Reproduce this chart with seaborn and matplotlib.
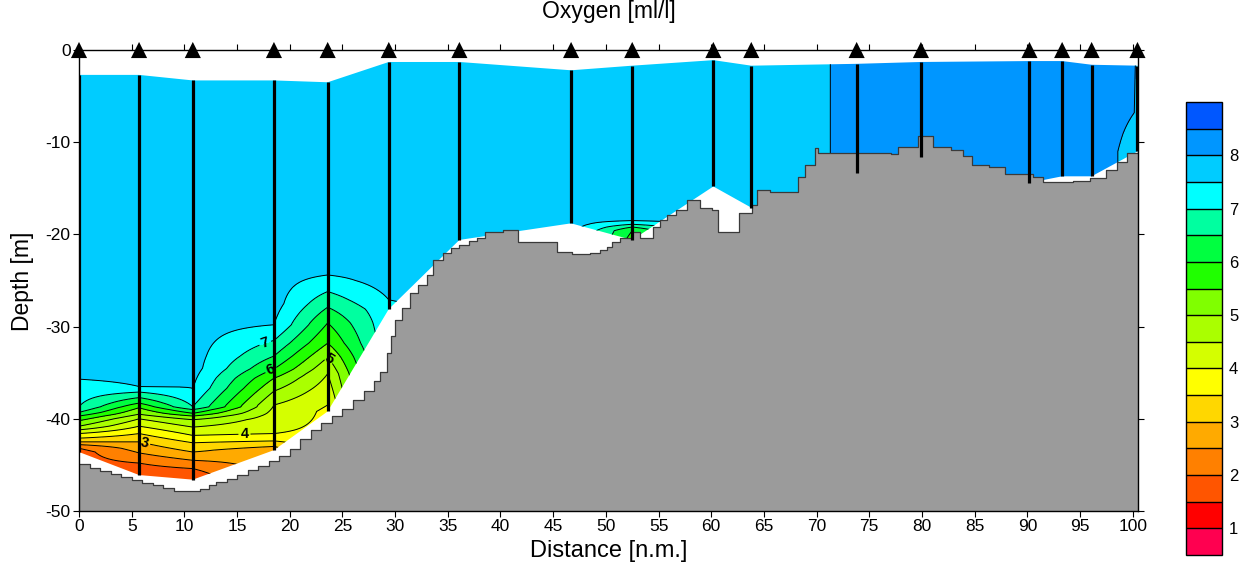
import numpy as np
import matplotlib
matplotlib.use("Agg")
import matplotlib.pyplot as plt
import seaborn as sns
from matplotlib.patches import Polygon

# ---------------- data ----------------
station_x = [0.0, 5.7, 10.8, 18.5, 23.6, 29.4, 36.1, 46.7, 52.5, 60.2, 63.8,
             73.8, 79.9, 90.2, 93.3, 96.1, 100.45]
station_top = [-2.7, -2.7, -3.3, -3.3, -3.5, -1.3, -1.3, -2.2, -1.7, -1.1, -1.7,
               -1.5, -1.3, -1.2, -1.2, -1.6, -1.7]
station_bottom = [-43.6, -46.1, -46.6, -43.4, -39.2, -28.1, -20.6, -18.8, -20.6,
                  -14.8, -17.1, -13.3, -11.6, -14.4, -13.7, -13.7, -11.0]

# oxygen profiles per station (depth [m], oxygen [ml/l]), depth ascending
profile_depths = [
    [-43.6, -43.2, -42.8, -42.5, -42.1, -41.6, -41.2, -40.8, -40.2, -39.7, -39.3, -38.7, -35.7, -33.0, -2.7],
    [-46.1, -44.8, -43.7, -42.5, -41.6, -40.8, -40.0, -39.5, -38.8, -38.3, -37.7, -37.1, -36.5, -34.0, -2.7],
    [-46.6, -45.4, -44.5, -43.6, -42.6, -41.8, -40.9, -40.1, -39.7, -39.4, -39.0, -38.7, -36.7, -34.5, -3.3],
    [-43.4, -43.0, -42.4, -41.6, -38.5, -37.0, -35.6, -34.6, -33.2, -31.5, -29.8, -27.5, -3.3],
    [-39.2, -38.5, -35.1, -33.3, -31.8, -29.6, -27.9, -26.2, -24.4, -22.0, -3.5],
    [-28.1, -27.1, -25.0, -1.3],
    [-20.6, -1.3],
    [-18.8, -2.2],
    [-20.6, -19.6, -19.2, -18.9, -18.5, -18.0, -1.7],
    [-14.8, -1.1],
    [-17.1, -1.7],
    [-13.3, -1.5],
    [-11.6, -1.3],
    [-14.4, -1.2],
    [-13.7, -1.2],
    [-13.7, -1.6],
    [-11.0, -9.0, -6.8, -1.7],
]
profile_values = [
    [1.8, 2.0, 2.5, 3.0, 3.5, 4.0, 4.5, 5.0, 5.5, 6.0, 6.5, 7.0, 7.5, 7.7, 7.7],
    [1.6, 2.0, 2.5, 3.0, 3.5, 4.0, 4.5, 5.0, 5.5, 6.0, 6.5, 7.0, 7.5, 7.7, 7.7],
    [1.6, 2.0, 2.5, 3.0, 3.5, 4.0, 4.5, 5.0, 5.5, 6.0, 6.5, 7.0, 7.5, 7.7, 7.7],
    [2.7, 3.0, 3.5, 4.0, 4.5, 5.0, 5.5, 6.0, 6.5, 7.0, 7.5, 7.7, 7.7],
    [3.9, 4.0, 4.5, 5.0, 5.5, 6.0, 6.5, 7.0, 7.5, 7.7, 7.7],
    [7.35, 7.5, 7.7, 7.7],
    [7.7, 7.7],
    [7.7, 7.7],
    [5.8, 6.0, 6.5, 7.0, 7.5, 7.7, 7.7],
    [7.7, 7.7],
    [7.7, 7.7],
    [8.1, 8.1],
    [8.2, 8.2],
    [8.2, 8.2],
    [8.2, 8.2],
    [8.2, 8.2],
    [7.85, 7.91, 7.985, 7.99],
]

# bathymetry (distance [n.m.], depth [m]) as steps
bathy_x = [0, 1, 2, 3, 4, 5, 6, 7, 8, 9, 11.5, 12.3, 13, 14, 15, 16, 17, 18, 19, 20,
           21, 22, 23, 24, 25, 26, 27, 28, 28.6, 29.2, 29.6, 30.0, 30.7, 31.4, 32.2,
           33.0, 33.6, 34.5, 35.3, 36.1, 37.0, 37.8, 38.5, 40.2, 41.7, 45.4, 46.8,
           48.5, 49.4, 50.1, 50.6, 51.3, 52.5, 53.2, 54.5, 55.1, 55.8, 56.7, 57.7,
           58.9, 60.1, 60.6, 62.6, 63.9, 64.3, 65.6, 68.2, 68.9, 69.8, 70.1, 77.1,
           77.7, 79.6, 81.0, 82.8, 83.9, 84.7, 86.4, 87.9, 90.5, 91.5, 94.3, 95.9,
           97.5, 98.5, 99.5, 100.5]
bathy_depth = [-44.9, -45.3, -45.7, -46.0, -46.3, -46.6, -47.0, -47.2, -47.5, -47.8,
               -47.6, -47.2, -46.9, -46.5, -46.1, -45.6, -45.1, -44.6, -44.0, -43.3,
               -42.2, -41.2, -40.5, -39.7, -38.9, -38.0, -37.0, -35.9, -34.9, -32.9,
               -31.0, -29.3, -28.0, -26.4, -25.5, -24.4, -22.8, -22.0, -21.5, -21.1,
               -20.7, -20.4, -19.7, -19.5, -20.8, -21.9, -22.1, -22.0, -21.7, -21.4,
               -20.8, -20.4, -19.7, -20.4, -19.2, -18.4, -17.9, -17.4, -16.3, -17.1,
               -17.4, -19.7, -17.7, -16.8, -15.2, -15.4, -13.8, -12.5, -10.6, -11.2,
               -11.3, -10.5, -9.3, -10.5, -10.8, -11.5, -12.5, -12.7, -13.4, -13.8,
               -14.3, -14.2, -13.9, -13.0, -12.1, -11.2, -11.0]

levels = [0.5, 1.0, 1.5, 2.0, 2.5, 3.0, 3.5, 4.0, 4.5, 5.0, 5.5, 6.0, 6.5, 7.0,
          7.5, 8.0, 8.5, 9.0]
level_colors = ['#FF0050', '#FF0000', '#FF5500', '#FF8000', '#FFAA00', '#FFD700',
                '#FFFF00', '#D4FF00', '#AAFF00', '#80FF00', '#20FF00', '#00FF40',
                '#00FFA0', '#00FFFF', '#00CCFF', '#0096FF', '#0057FF']
cbar_ticks = [1, 2, 3, 4, 5, 6, 7, 8]
label_levels = [3.0, 4.0, 5.0, 6.0, 7.0]

# ---------------- style ----------------
sns.set_style("ticks", {"axes.edgecolor": "black", "xtick.color": "black",
                        "ytick.color": "black", "text.color": "black",
                        "axes.labelcolor": "black"})
plt.rcParams['font.family'] = ['Liberation Sans', 'DejaVu Sans']
plt.rcParams['axes.unicode_minus'] = False

fig = plt.figure(figsize=(12.55, 5.73), dpi=100)
ax = fig.add_axes([79 / 1255, 62 / 573, 1059 / 1255, 461 / 573])

# grid the profiles on a fine depth axis
zf = np.linspace(-50, 0, 1001)
field = np.column_stack([np.interp(zf, d, v) for d, v in zip(profile_depths, profile_values)])

cf = ax.contourf(station_x, zf, field, levels=levels, colors=level_colors, zorder=1)
plain_levels = [lv for lv in levels if lv not in label_levels]
cl = ax.contour(station_x, zf, field, levels=plain_levels, colors='black', linewidths=0.7, zorder=2)
cl2 = ax.contour(station_x, zf, field, levels=label_levels, colors='black', linewidths=0.7, zorder=2)

verts = list(zip(station_x, station_top)) + list(zip(station_x[::-1], station_bottom[::-1]))
clip = Polygon(verts, closed=True, facecolor='none', edgecolor='none')
ax.add_patch(clip)
cf.set_clip_path(clip)
cl.set_clip_path(clip)
cl2.set_clip_path(clip)

texts = ax.clabel(cl2, fmt='%d', fontsize=10.5, inline=True, inline_spacing=2,
                  manual=[(6.1, -43.1), (15.7, -41.5), (23.9, -33.3), (18.1, -34.4), (17.7, -31.9)])
for t in texts:
    t.set_fontweight('bold')

# bathymetry
ax.fill_between(bathy_x, bathy_depth, -50, step='post', color='#9B9B9B', lw=0, zorder=3)
ax.step(bathy_x, bathy_depth, where='post', color='#3a3a3a', lw=0.9, zorder=3.5)

# casts
ax.vlines(station_x, station_bottom, station_top, colors='black', lw=2.3, zorder=4)
sns.scatterplot(x=station_x, y=[0.0] * len(station_x), marker='^', s=135, color='black',
                edgecolor='none', ax=ax, zorder=6, clip_on=False, legend=False)

ax.set_xlim(0, 100.5)
ax.set_ylim(-50, 0)
ax.set_xticks(np.arange(0, 101, 5))
ax.set_yticks([0, -10, -20, -30, -40, -50])
ax.tick_params(direction='out', top=True, right=True, labeltop=False, labelright=False,
               length=4, width=0.8, labelsize=12.5, pad=2)
for s in ax.spines.values():
    s.set_linewidth(1.0)
    s.set_zorder(7)
ax.set_xlabel('')
ax.set_ylabel('')

fig.text(608.5 / 1255, 1 - 18 / 573, 'Oxygen [ml/l]', ha='center', va='baseline', fontsize=16.5)
fig.text(608.5 / 1255, 1 - 557 / 573, 'Distance [n.m.]', ha='center', va='baseline', fontsize=17)
fig.text(22.5 / 1255, 1 - 281 / 573, 'Depth [m]', ha='center', va='center', rotation=90, fontsize=16.5)

# colorbar
cax = fig.add_axes([1186 / 1255, 18 / 573, 36 / 1255, 453 / 573])
cb = fig.colorbar(cf, cax=cax, ticks=cbar_ticks, drawedges=True)
cb.outline.set_linewidth(1.0)
cb.dividers.set_linewidth(1.0)
cb.ax.tick_params(length=0, labelsize=12, pad=5)

fig.savefig('out.png', dpi=100)
